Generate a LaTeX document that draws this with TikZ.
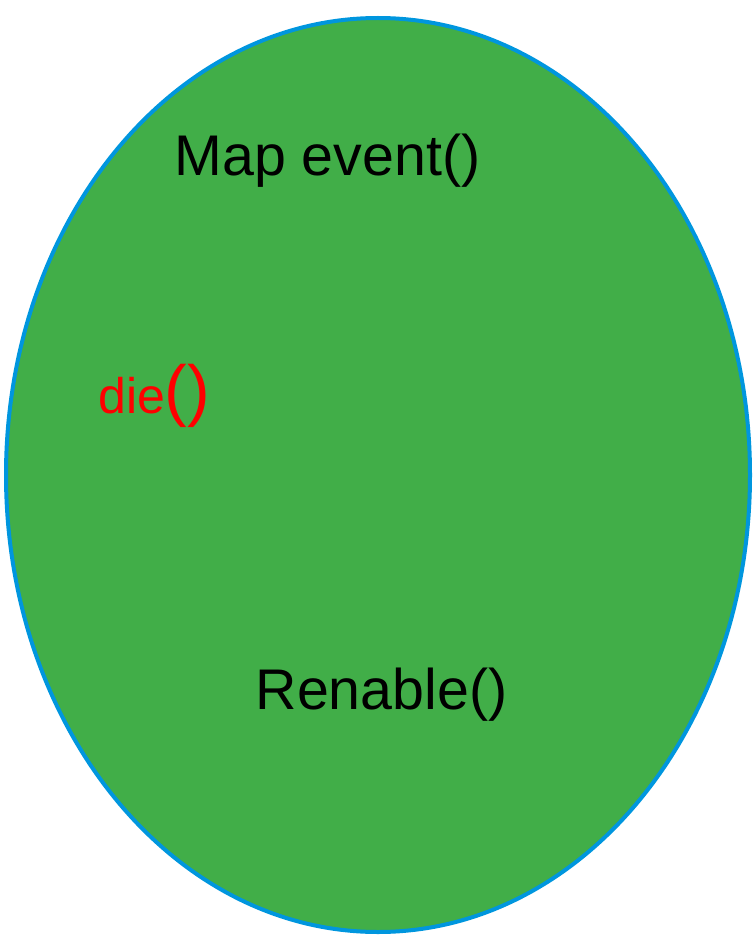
\documentclass[tikz,border=0pt]{standalone}
\usepackage{fontspec}
\setmainfont{Liberation Sans}
\definecolor{blobgreen}{RGB}{65,174,72}
\definecolor{blobedge}{RGB}{0,150,222}
\definecolor{callred}{RGB}{255,0,0}
\begin{document}
\begin{tikzpicture}[x=0.75pt,y=-0.75pt,
  label text/.style={inner sep=0pt,anchor=base,font=\fontsize{43}{48}\selectfont},
]
\useasboundingbox (0,0) rectangle (753,952);
% the blob
\draw[fill=blobgreen,draw=blobedge,line width=3pt] (378,475) ellipse [x radius=372, y radius=457];
% calls inside it
\node[label text] (mapev) at (327.5,176) {Map event()};
\node[label text] (renab) at (381.5,709) {Renable()};
\node[inner sep=0pt,anchor=base west,text=callred] (die) at (98,413)
  {\fontsize{37.5}{40}\selectfont die\fontsize{51}{54}\selectfont()};
\end{tikzpicture}
\end{document}
